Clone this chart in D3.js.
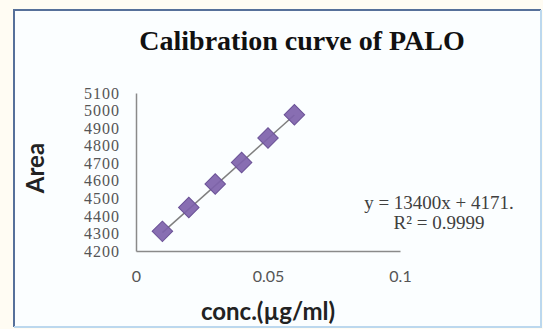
<!DOCTYPE html>
<html>
<head>
<meta charset="utf-8">
<script src="https://cdn.jsdelivr.net/npm/d3@7"></script>
<style>
  body { margin: 0; background: #fffcf3; }
  svg { display: block; }
</style>
</head>
<body>
<div id="chart"></div>
<script>
// data
var conc = [0.01, 0.02, 0.03, 0.04, 0.05, 0.06];
var area = [4312, 4448, 4582, 4704, 4844, 4976];
var yTicks = [4200, 4300, 4400, 4500, 4600, 4700, 4800, 4900, 5000, 5100];
var xTicks = [0, 0.05, 0.1];
var fit = [13400, 4171]; // slope, intercept of trendline
var eqLines = ["y = 13400x + 4171.", "R\u00b2 = 0.9999"];

var svg = d3.select("#chart")
  .append("svg")
  .attr("width", 543)
  .attr("height", 329);

// chart frame
svg.append("rect")
  .attr("x", 14).attr("y", 10)
  .attr("width", 527).attr("height", 317)
  .attr("fill", "#fbfeff");
svg.append("path")
  .attr("d", "M14,327V10H541")
  .attr("fill", "none")
  .attr("stroke", "#56709a")
  .attr("stroke-width", 2);
svg.append("path")
  .attr("d", "M541,10V327H14")
  .attr("fill", "none")
  .attr("stroke", "#bcd8ee")
  .attr("stroke-width", 2);

var x = d3.scaleLinear().domain([0, 0.1]).range([136, 400]);
var y = d3.scaleLinear().domain([4200, 5100]).range([251, 93]);

// y axis
var yAxis = svg.append("g")
  .attr("transform", "translate(136,0)")
  .call(d3.axisLeft(y).tickValues(yTicks).tickSize(0).tickPadding(16).tickFormat(d3.format("d")));
yAxis.select(".domain").attr("stroke", "#8a8a8a").attr("stroke-width", 1.5);
yAxis.selectAll("text")
  .attr("font-family", "Liberation Serif")
  .attr("font-size", 16)
  .attr("letter-spacing", 1)
  .attr("fill", "#555");

// x axis
var xAxis = svg.append("g")
  .attr("transform", "translate(0,251)")
  .call(d3.axisBottom(x).tickValues(xTicks).tickSize(0).tickPadding(20).tickFormat(function(d){ return String(d); }));
xAxis.select(".domain").attr("stroke", "#8a8a8a").attr("stroke-width", 1.5);
xAxis.selectAll("text")
  .attr("font-family", "Lato")
  .attr("font-size", 16)
  .attr("fill", "#555");

// trendline
svg.append("line")
  .attr("x1", x(conc[0])).attr("y1", y(fit[0] * conc[0] + fit[1]))
  .attr("x2", x(conc[conc.length - 1])).attr("y2", y(fit[0] * conc[conc.length - 1] + fit[1]))
  .attr("stroke", "#7f7f7f")
  .attr("stroke-width", 1.5);

// diamond markers
svg.selectAll(".pt")
  .data(conc)
  .enter()
  .append("path")
  .attr("class", "pt")
  .attr("d", d3.symbol().type(d3.symbolSquare).size(210))
  .attr("transform", function(d, i) { return "translate(" + x(d) + "," + y(area[i]) + ") rotate(45)"; })
  .attr("fill", "#7e62ab")
  .attr("fill-opacity", 0.92)
  .attr("stroke", "#6a5196")
  .attr("stroke-width", 1);

// title
svg.append("text")
  .attr("x", 302).attr("y", 50)
  .attr("text-anchor", "middle")
  .attr("font-family", "Liberation Serif")
  .attr("font-weight", "bold")
  .attr("font-size", 28)
  .attr("fill", "#111")
  .text("Calibration curve of PALO");

// axis titles
svg.append("text")
  .attr("x", 268).attr("y", 320)
  .attr("text-anchor", "middle")
  .attr("font-family", "Lato")
  .attr("font-weight", "bold")
  .attr("font-size", 24)
  .attr("fill", "#222")
  .text("conc.(\u00b5g/ml)");

svg.append("text")
  .attr("transform", "translate(44,168) rotate(-90)")
  .attr("text-anchor", "middle")
  .attr("font-family", "Lato")
  .attr("font-weight", "bold")
  .attr("font-size", 24)
  .attr("fill", "#222")
  .text("Area");

// equation
svg.selectAll(".eq")
  .data(eqLines)
  .enter()
  .append("text")
  .attr("class", "eq")
  .attr("x", 439)
  .attr("y", function(d, i) { return 209 + i * 20; })
  .attr("text-anchor", "middle")
  .attr("font-family", "Liberation Serif")
  .attr("font-size", 19)
  .attr("fill", "#404040")
  .text(function(d) { return d; });
</script>
</body>
</html>
